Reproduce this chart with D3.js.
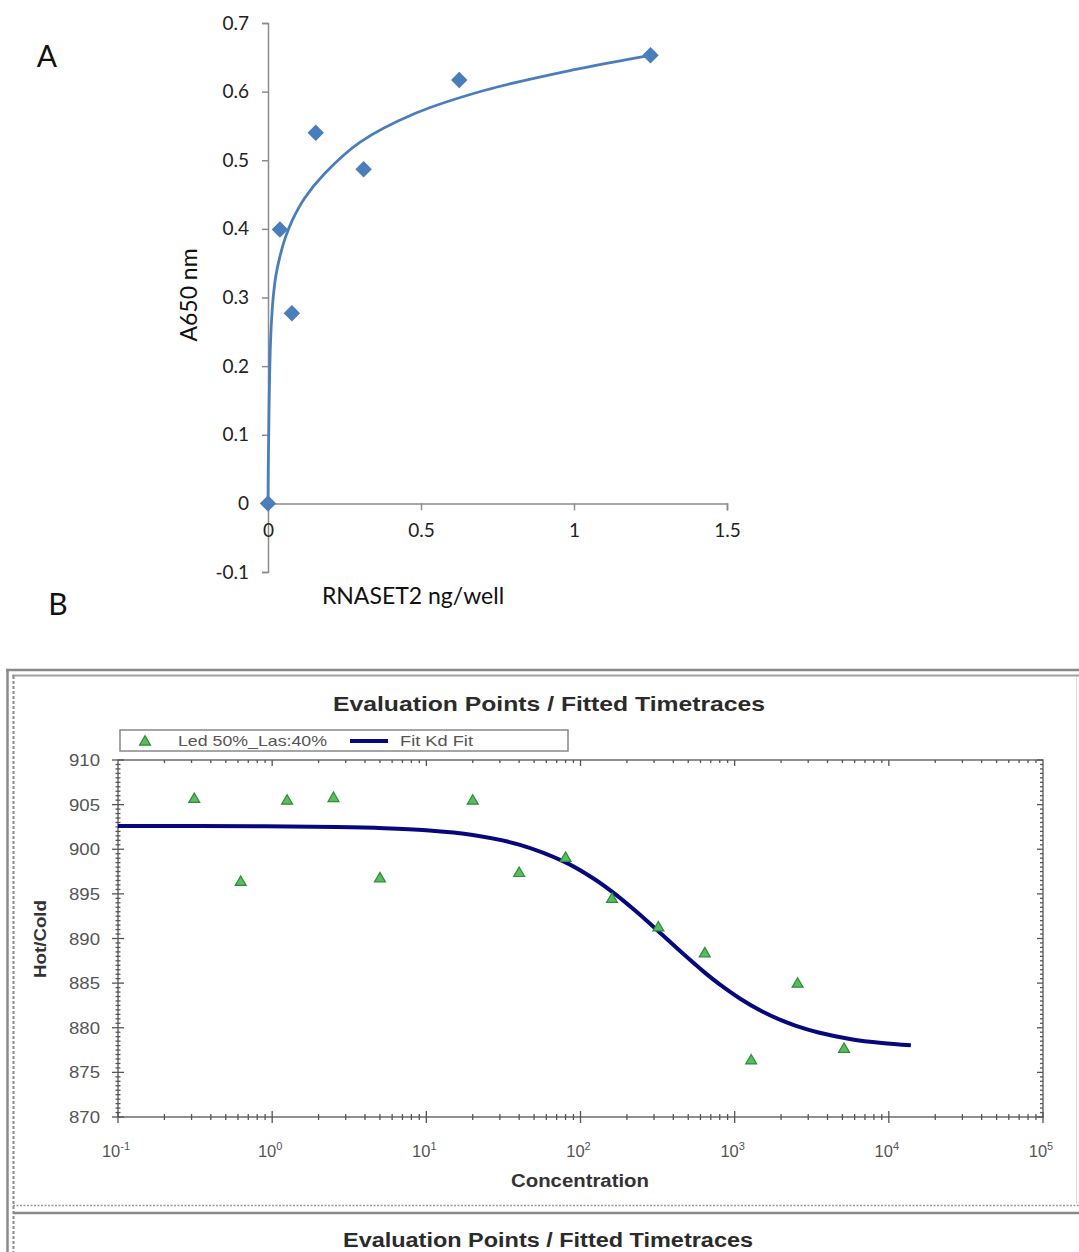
<!DOCTYPE html>
<html>
<head>
<meta charset="utf-8">
<script src="https://cdn.jsdelivr.net/npm/d3@7"></script>
<style>
  html, body { margin: 0; padding: 0; background: #fff; }
  svg { display: block; }
</style>
</head>
<body>
<svg id="fig" width="1079" height="1252"></svg>
<script>
// ---------- Panel A: RNASET2 titration (absorbance) ----------
const aDose = [0, 0.039, 0.078, 0.156, 0.3125, 0.625, 1.25];
const aAbs  = [0, 0.399, 0.277, 0.540, 0.487, 0.617, 0.653];
// saturation trend line through the points
const aFitX = [0, 0.0005, 0.0012, 0.0023, 0.0035, 0.0055, 0.008, 0.012, 0.017, 0.025, 0.038, 0.055, 0.08, 0.12, 0.186, 0.3, 0.48, 0.709, 1.0, 1.25];
const aFitY = [0, 0.03, 0.065, 0.098, 0.14, 0.19, 0.232, 0.27, 0.3, 0.33, 0.358, 0.385, 0.413, 0.445, 0.481, 0.526, 0.568, 0.602, 0.632, 0.653];
const aXTicks = [0, 0.5, 1, 1.5];
const aYTicks = [-0.1, 0, 0.1, 0.2, 0.3, 0.4, 0.5, 0.6, 0.7];

// ---------- Panel B: MST evaluation points and Kd fit ----------
const bConc = [0.3125, 0.625, 1.25, 2.5, 5, 20, 40, 80, 160, 320, 640, 1280, 2560, 5120];
const bHotCold = [905.6, 896.3, 905.4, 905.7, 896.7, 905.4, 897.3, 899.0, 894.4, 891.2, 888.3, 876.3, 884.9, 877.6];
const bFitX = [0.1, 0.9, 2.6, 5.3, 10, 20, 40, 80, 120, 160, 230, 320, 450, 640, 800, 1100, 1500, 2000, 2500, 3500, 5700, 9000, 13900];
const bFitY = [902.6, 902.57, 902.49, 902.36, 902.12, 901.59, 900.52, 898.53, 896.78, 895.25, 893.02, 890.81, 888.48, 886.18, 884.86, 883.2, 881.85, 880.85, 880.21, 879.47, 878.72, 878.29, 878.03];
const bYTicks = [870, 875, 880, 885, 890, 895, 900, 905, 910];
const bXDecades = [-1, 0, 1, 2, 3, 4, 5];

const svg = d3.select("#fig");

// ================= Panel A =================
const fontA = "Lato, 'Open Sans', sans-serif";
const axisGrey = "#8c8c8c";
const blueA = "#4a7ebb";

const xA = d3.scaleLinear().domain([0, 1.5]).range([268, 727]);
const yA = d3.scaleLinear().domain([-0.1, 0.7]).range([572, 23]);

const gA = svg.append("g");

// y axis
const yAxisA = d3.axisLeft(yA).tickValues(aYTicks).tickSize(6).tickPadding(13)
  .tickFormat(d => (Math.abs(d) < 1e-9 ? "0" : String(+d.toFixed(1))));
const gy = gA.append("g").attr("transform", `translate(${xA(0)},0)`).call(yAxisA);
gy.select(".domain").attr("stroke", axisGrey).attr("stroke-width", 1.5);
gy.selectAll(".tick line").attr("stroke", axisGrey).attr("stroke-width", 1.5);
gy.selectAll(".tick text").attr("font-family", fontA).attr("font-size", 19).attr("fill", "#222");

// x axis at y = 0
const xAxisA = d3.axisBottom(xA).tickValues(aXTicks).tickSize(7).tickPadding(13)
  .tickFormat(d => String(d));
const gx = gA.append("g").attr("transform", `translate(0,${yA(0)})`).call(xAxisA);
gx.select(".domain").attr("stroke", axisGrey).attr("stroke-width", 1.5);
gx.selectAll(".tick line").attr("stroke", axisGrey).attr("stroke-width", 1.5);
gx.selectAll(".tick text").attr("font-family", fontA).attr("font-size", 19).attr("fill", "#222");

// trend line
const lineA = d3.line().x(d => xA(d[0])).y(d => yA(d[1])).curve(d3.curveCatmullRom.alpha(0.5));
gA.append("path")
  .datum(d3.zip(aFitX, aFitY))
  .attr("d", lineA)
  .attr("fill", "none")
  .attr("stroke", blueA)
  .attr("stroke-width", 2.8);

// diamonds
gA.selectAll("path.pt")
  .data(d3.zip(aDose, aAbs))
  .join("path")
  .attr("class", "pt")
  .attr("d", d3.symbol(d3.symbolSquare, 135))
  .attr("transform", d => `translate(${xA(d[0])},${yA(d[1])}) rotate(45)`)
  .attr("fill", blueA);

// labels
gA.append("text").attr("x", 47).attr("y", 67).attr("text-anchor", "middle")
  .attr("font-family", fontA).attr("font-size", 30).attr("fill", "#111").text("A");
gA.append("text").attr("x", 58).attr("y", 615).attr("text-anchor", "middle")
  .attr("font-family", fontA).attr("font-size", 30).attr("fill", "#111").text("B");
gA.append("text")
  .attr("transform", `translate(197,295) rotate(-90)`)
  .attr("text-anchor", "middle")
  .attr("font-family", fontA).attr("font-size", 23).attr("fill", "#111").text("A650 nm");
gA.append("text").attr("x", 413).attr("y", 604).attr("text-anchor", "middle")
  .attr("font-family", fontA).attr("font-size", 23).attr("fill", "#111").text("RNASET2 ng/well");

// ================= Panel B =================
const fontB = "'Liberation Sans', Arial, sans-serif";
const gB = svg.append("g");

// window frame
gB.append("line").attr("x1", 7.5).attr("x2", 7.5).attr("y1", 669).attr("y2", 1252)
  .attr("stroke", "#8a8a8a").attr("stroke-width", 2.5);
gB.append("line").attr("x1", 6).attr("x2", 1079).attr("y1", 670).attr("y2", 670)
  .attr("stroke", "#8a8a8a").attr("stroke-width", 2.5);
gB.append("line").attr("x1", 12).attr("x2", 1079).attr("y1", 675.5).attr("y2", 675.5)
  .attr("stroke", "#a0a0a0").attr("stroke-width", 2);
gB.append("line").attr("x1", 13.5).attr("x2", 13.5).attr("y1", 676).attr("y2", 1252)
  .attr("stroke", "#8a8a8a").attr("stroke-width", 2).attr("stroke-dasharray", "3,2");
gB.append("line").attr("x1", 13).attr("x2", 1079).attr("y1", 1205.5).attr("y2", 1205.5)
  .attr("stroke", "#9a9a9a").attr("stroke-width", 1.5).attr("stroke-dasharray", "2,1.5");
gB.append("line").attr("x1", 13).attr("x2", 1079).attr("y1", 1213).attr("y2", 1213)
  .attr("stroke", "#8a8a8a").attr("stroke-width", 2.5);
gB.append("line").attr("x1", 1076.5).attr("x2", 1076.5).attr("y1", 677).attr("y2", 1204)
  .attr("stroke", "#dcdcdc").attr("stroke-width", 1);

// titles
gB.append("text").attr("x", 549).attr("y", 711).attr("text-anchor", "middle")
  .attr("font-family", fontB).attr("font-weight", "bold").attr("font-size", 21)
  .attr("textLength", 432).attr("lengthAdjust", "spacingAndGlyphs")
  .attr("fill", "#2b2b2b").text("Evaluation Points / Fitted Timetraces");
gB.append("text").attr("x", 548).attr("y", 1247).attr("text-anchor", "middle")
  .attr("font-family", fontB).attr("font-weight", "bold").attr("font-size", 20)
  .attr("textLength", 410).attr("lengthAdjust", "spacingAndGlyphs")
  .attr("fill", "#2b2b2b").text("Evaluation Points / Fitted Timetraces");

const xB = d3.scaleLog().domain([0.1, 1e5]).range([118, 1043]);
const yB = d3.scaleLinear().domain([870, 910]).range([1117, 760]);
const [L, R] = xB.range();
const [B, T] = yB.range();
const axisCol = "#555";

const frame = gB.append("g").attr("stroke", axisCol).attr("stroke-width", 1.3).attr("fill", "none");
frame.append("rect").attr("x", L).attr("y", T).attr("width", R - L).attr("height", B - T);

// log x ticks
const xAll = xB.ticks();
const isDecade = v => Math.abs(Math.log10(v) - Math.round(Math.log10(v))) < 1e-9;
xAll.forEach(v => {
  const px = xB(v);
  const major = isDecade(v);
  if (px <= L + 0.5 || px >= R - 0.5) {
    frame.append("line").attr("x1", px).attr("x2", px).attr("y1", B - 5).attr("y2", B + 6);
    return;
  }
  // bottom: crossing ticks
  frame.append("line").attr("x1", px).attr("x2", px)
    .attr("y1", B - (major ? 6 : 3)).attr("y2", B + (major ? 6 : 3));
  // top: inward ticks
  frame.append("line").attr("x1", px).attr("x2", px)
    .attr("y1", T).attr("y2", T + (major ? 6 : 3));
});

// linear y ticks: major every 5, minor every 0.5
const yMinor = d3.range(870, 910.001, 0.5);
yMinor.forEach(v => {
  const py = yB(v);
  const major = Math.abs(v % 5) < 1e-9;
  frame.append("line").attr("x1", L - (major ? 6 : 2.5)).attr("x2", L + (major ? 6 : 2.5))
    .attr("y1", py).attr("y2", py);
  frame.append("line").attr("x1", R).attr("x2", R - (major ? 6 : 3))
    .attr("y1", py).attr("y2", py);
});

// y tick labels
gB.selectAll("text.yl").data(bYTicks).join("text")
  .attr("class", "yl")
  .attr("x", 100).attr("y", d => yB(d) + 6)
  .attr("text-anchor", "end")
  .attr("font-family", fontB).attr("font-size", 16.5).attr("fill", "#555")
  .attr("textLength", 31).attr("lengthAdjust", "spacingAndGlyphs")
  .text(d => d);

// x tick labels 10^n
const xl = gB.selectAll("text.xl").data(bXDecades).join("text")
  .attr("class", "xl")
  .attr("x", d => xB(Math.pow(10, d)) - 2)
  .attr("y", 1157)
  .attr("text-anchor", "middle")
  .attr("font-family", fontB).attr("font-size", 16.5).attr("fill", "#555");
xl.append("tspan").text("10");
xl.append("tspan").attr("dy", -7).attr("font-size", 11).text(d => d);

// axis titles
gB.append("text").attr("x", 580).attr("y", 1187).attr("text-anchor", "middle")
  .attr("font-family", fontB).attr("font-weight", "bold").attr("font-size", 17.5)
  .attr("textLength", 138).attr("lengthAdjust", "spacingAndGlyphs")
  .attr("fill", "#333").text("Concentration");
gB.append("text").attr("transform", "translate(46,939) rotate(-90)")
  .attr("text-anchor", "middle")
  .attr("font-family", fontB).attr("font-weight", "bold").attr("font-size", 17)
  .attr("textLength", 78).attr("lengthAdjust", "spacingAndGlyphs")
  .attr("fill", "#333").text("Hot/Cold");

// fit curve
const navy = "#08087e";
const lineB = d3.line().x(d => xB(d[0])).y(d => yB(d[1])).curve(d3.curveCatmullRom.alpha(0.5));
gB.append("path").datum(d3.zip(bFitX, bFitY)).attr("d", lineB)
  .attr("fill", "none").attr("stroke", navy).attr("stroke-width", 4);

// evaluation points
const tri = d3.symbol(d3.symbolTriangle, 52);
gB.selectAll("path.tri").data(d3.zip(bConc, bHotCold)).join("path")
  .attr("class", "tri")
  .attr("d", tri)
  .attr("transform", d => `translate(${xB(d[0])},${yB(d[1])})`)
  .attr("fill", "#5dbb5d").attr("stroke", "#2a8f3a").attr("stroke-width", 1.2);

// legend
const lg = gB.append("g");
lg.append("rect").attr("x", 120).attr("y", 730).attr("width", 448).attr("height", 21)
  .attr("fill", "#fff").attr("stroke", "#888").attr("stroke-width", 1.5);
lg.append("path").attr("d", tri).attr("transform", "translate(145,742)")
  .attr("fill", "#5dbb5d").attr("stroke", "#2a8f3a").attr("stroke-width", 1.2);
lg.append("text").attr("x", 178).attr("y", 746)
  .attr("font-family", fontB).attr("font-size", 15).attr("fill", "#555")
  .attr("textLength", 149).attr("lengthAdjust", "spacingAndGlyphs").text("Led 50%_Las:40%");
lg.append("line").attr("x1", 350).attr("x2", 388).attr("y1", 741).attr("y2", 741)
  .attr("stroke", navy).attr("stroke-width", 4);
lg.append("text").attr("x", 400).attr("y", 746)
  .attr("font-family", fontB).attr("font-size", 15).attr("fill", "#555")
  .attr("textLength", 73).attr("lengthAdjust", "spacingAndGlyphs").text("Fit Kd Fit");
</script>
</body>
</html>
